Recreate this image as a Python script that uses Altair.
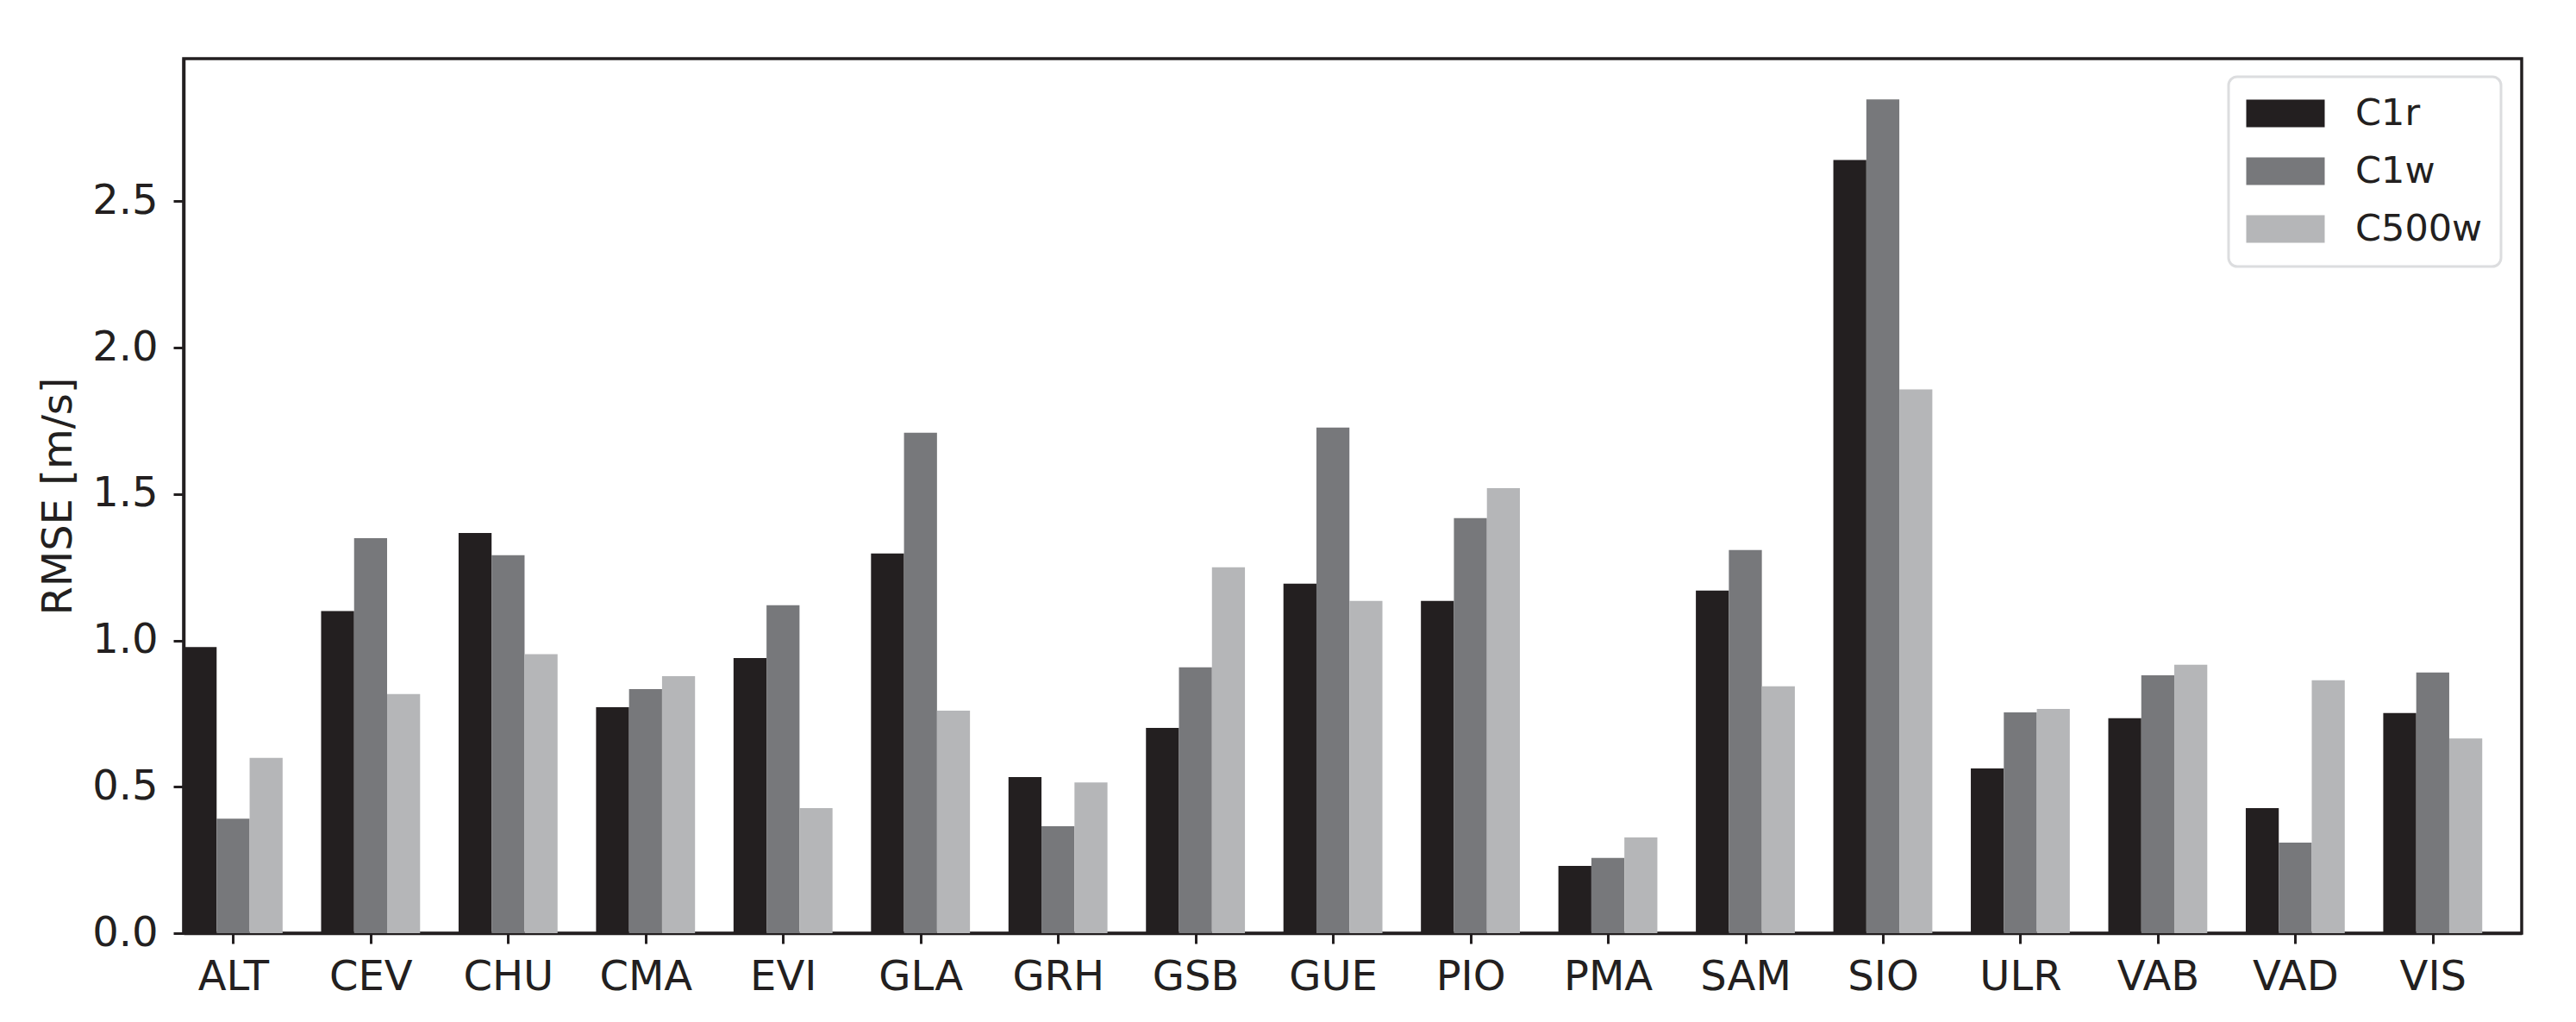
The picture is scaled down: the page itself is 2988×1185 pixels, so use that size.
import altair as alt
import pandas as pd

stations = ["ALT", "CEV", "CHU", "CMA", "EVI", "GLA", "GRH", "GSB", "GUE",
            "PIO", "PMA", "SAM", "SIO", "ULR", "VAB", "VAD", "VIS"]
series_names = ["C1r", "C1w", "C500w"]
c1r = [0.977, 1.100, 1.367, 0.772, 0.940, 1.297, 0.533, 0.701, 1.194,
       1.135, 0.230, 1.170, 2.641, 0.563, 0.734, 0.427, 0.752]
c1w = [0.391, 1.349, 1.291, 0.834, 1.120, 1.709, 0.365, 0.908, 1.727,
       1.418, 0.257, 1.309, 2.848, 0.754, 0.881, 0.309, 0.890]
c500w = [0.599, 0.817, 0.953, 0.878, 0.427, 0.760, 0.515, 1.250, 1.135,
         1.520, 0.327, 0.843, 1.857, 0.766, 0.917, 0.864, 0.665]
colors = ["#231f20", "#77787b", "#b5b6b8"]

BAR_W = 0.24
INK = "#231f20"
FONT = "DejaVu Sans"

rows = []
for k, (name, vals) in enumerate(zip(series_names, [c1r, c1w, c500w])):
    for i, (st, v) in enumerate(zip(stations, vals)):
        start = i + (k - 1) * BAR_W - BAR_W / 2
        rows.append({"station": st, "series": name, "value": v,
                     "x0": start, "x1": start + BAR_W})
df = pd.DataFrame(rows)

label_expr = "[" + ",".join(f"'{s}'" for s in stations) + "][datum.value]"

bars = alt.Chart(df).mark_bar(stroke=None).encode(
    x=alt.X("x0:Q",
            scale=alt.Scale(domain=[-0.36, 16.647], nice=False, zero=False),
            axis=alt.Axis(values=list(range(len(stations))), labelExpr=label_expr,
                          title=None, grid=False, tickSize=12, tickWidth=3,
                          labelPadding=15, labelFontSize=48, labelFont=FONT,
                          labelColor=INK, tickColor=INK, domainColor=INK,
                          domainWidth=3.5, labelFlush=False)),
    x2="x1:Q",
    y=alt.Y("value:Q",
            scale=alt.Scale(domain=[0, 2.987], nice=False),
            axis=alt.Axis(values=[0, 0.5, 1.0, 1.5, 2.0, 2.5], format=".1f",
                          title="RMSE [m/s]", titleFontSize=48, titleFont=FONT,
                          titleFontWeight="normal", titleColor=INK,
                          titleAngle=270, titleBaseline="alphabetic",
                          titleX=-131, titleY=507, titleAlign="center",
                          grid=False, tickSize=12, tickWidth=3, labelPadding=18,
                          labelFontSize=48, labelFont=FONT, labelColor=INK,
                          tickColor=INK, domainColor=INK, domainWidth=3.5,
                          labelFlush=False)),
    y2=alt.datum(0),
    color=alt.Color("series:N",
                    scale=alt.Scale(domain=series_names, range=colors),
                    sort=series_names,
                    legend=alt.Legend(title=None, orient="none",
                                      legendX=2372, legendY=21,
                                      symbolType="M-1.375,-1H4.313V1H-1.375Z",
                                      symbolSize=1024, symbolStrokeWidth=0,
                                      symbolOpacity=1,
                                      labelFontSize=43, labelFont=FONT,
                                      labelColor=INK, labelOffset=83,
                                      rowPadding=23, padding=21,
                                      strokeColor="#dcdddf",
                                      cornerRadius=10, fillColor="white")),
)

chart = bars.properties(
    width=2712, height=1014,
    autosize=alt.AutoSizeParams(type="none"),
    padding={"left": 205, "top": 60, "right": 50, "bottom": 90},
    background="white",
).configure_view(stroke=INK, strokeWidth=3.5).configure_legend(strokeWidth=3)

chart.save("out.html", embed_options={"renderer": "svg", "actions": False})
